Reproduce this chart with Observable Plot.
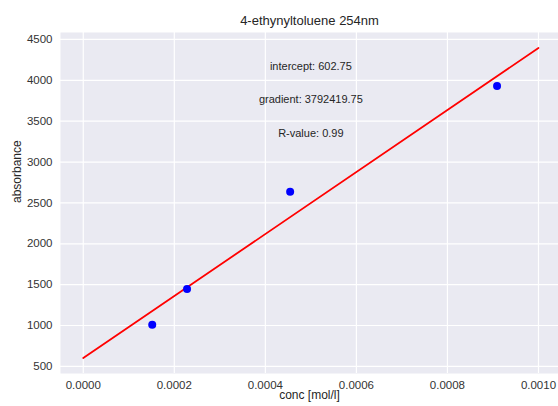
<!DOCTYPE html>
<html>
<head>
<meta charset="utf-8">
<script src="https://cdn.jsdelivr.net/npm/d3@7"></script>
<script src="https://cdn.jsdelivr.net/npm/@observablehq/plot@0.6"></script>
<style>
  html, body { margin: 0; padding: 0; background: #fff; }
  #chart svg { display: block; font-family: "Liberation Sans", Arial, sans-serif; }
</style>
</head>
<body>
<div id="chart"></div>
<script>
// Data
const conc = [0.0001515, 0.000228, 0.0004545, 0.000909];
const absorbance = [1008, 1446, 2637, 3930];
const intercept = 602.75;
const gradient = 3792419.75;
const rValue = 0.99;
const fitX = [0, 0.001];
const xTicks = [0, 0.0002, 0.0004, 0.0006, 0.0008, 0.0010];
const yTicks = [500, 1000, 1500, 2000, 2500, 3000, 3500, 4000, 4500];
const annotations = [
  `intercept: ${intercept.toFixed(2)}`,
  `gradient: ${gradient.toFixed(2)}`,
  `R-value: ${rValue.toFixed(2)}`
];
const annotationY = [4175, 3760, 3345];
const annotationX = 0.0005;
const title = "4-ethynyltoluene 254nm";
const xLabel = "conc [mol/l]";
const yLabel = "absorbance";

const points = conc.map((c, i) => ({c, a: absorbance[i]}));
const fit = fitX.map(x => ({x, y: intercept + gradient * x}));
const notes = annotations.map((t, i) => ({t, y: annotationY[i]}));

const chart = Plot.plot({
  width: 558,
  height: 406,
  marginLeft: 60,
  marginRight: 0,
  marginTop: 32,
  marginBottom: 33,
  style: {fontFamily: "Liberation Sans, Arial, sans-serif", background: "#fff"},
  x: {domain: [-0.00005, 0.001044]},
  y: {domain: [413, 4585]},
  marks: [
    Plot.frame({fill: "#EAEAF2", stroke: null}),
    Plot.gridX(xTicks, {stroke: "#fff", strokeOpacity: 1, strokeWidth: 1.2}),
    Plot.gridY(yTicks, {stroke: "#fff", strokeOpacity: 1, strokeWidth: 1.2}),
    Plot.axisX(xTicks, {
      tickSize: 0, tickPadding: 7, tickFormat: d3.format(".4f"),
      fontSize: 11.5, color: "#333", label: null
    }),
    Plot.axisY(yTicks, {
      tickSize: 0, tickPadding: 8, tickFormat: d => String(d),
      fontSize: 11.5, color: "#333", label: null
    }),
    Plot.line(fit, {x: "x", y: "y", stroke: "#ff0000", strokeWidth: 1.8}),
    Plot.dot(points, {x: "c", y: "a", r: 4, fill: "#0000ff", stroke: null}),
    Plot.text(notes, {x: () => annotationX, y: "y", text: "t", fontSize: 11, fill: "#262626"}),
    Plot.text([title], {frameAnchor: "top", dy: -12, fontSize: 13, fill: "#262626", lineAnchor: "middle"}),
    Plot.text([xLabel], {frameAnchor: "bottom", dy: 22, fontSize: 12, fill: "#262626", lineAnchor: "middle"}),
    Plot.text([yLabel], {frameAnchor: "left", dx: -43, rotate: -90, fontSize: 12, fill: "#262626", lineAnchor: "middle"})
  ]
});
document.getElementById("chart").appendChild(chart);
</script>
</body>
</html>
